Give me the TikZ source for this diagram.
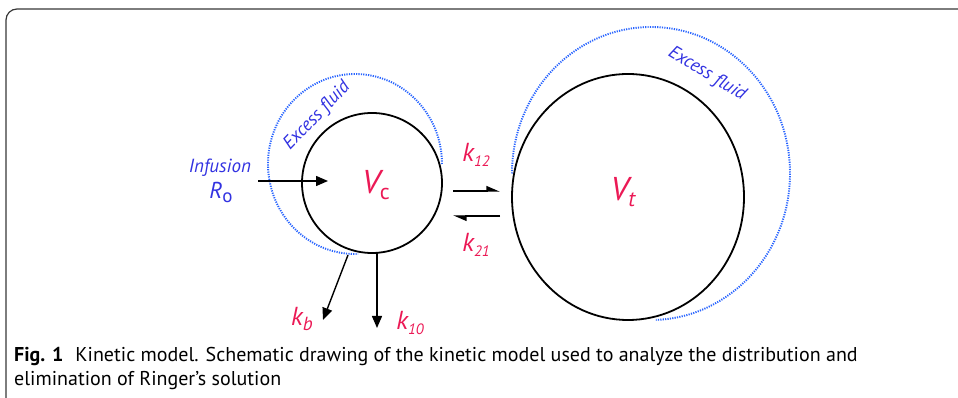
\documentclass[tikz,border=0pt]{standalone}
\usepackage{fontspec}
\setmainfont{PT Sans}
\usetikzlibrary{arrows.meta,calc,shapes.geometric}
\definecolor{tblue}{RGB}{50,50,225}
\definecolor{dblue}{RGB}{40,100,255}
\definecolor{tred}{RGB}{235,25,85}
\definecolor{framegray}{RGB}{55,55,55}
\newcommand\lowsub[2][5pt]{\raisebox{-#1}{#2}}
\begin{document}
\begin{tikzpicture}[x=1pt,y=1pt,
  comp/.style={draw=black,line width=1.8pt},
  excess/.style={draw=dblue,line width=1.9pt,dash pattern=on 1.2pt off 1.2pt},
  flow/.style={draw=black,line width=1.4pt,-{Triangle[length=12pt,width=10pt]}},
  xchg/.style={draw=black,line width=1.4pt,-{Triangle[length=12pt,width=10pt,harpoon]}},
  rate/.style={text=tred,font=\itshape\fontsize{26}{28}\selectfont,inner sep=0pt},
  vol/.style={text=tred,font=\itshape\fontsize{33}{35}\selectfont,inner sep=0pt},
  bluelbl/.style={text=tblue,font=\itshape\fontsize{19}{21}\selectfont,inner sep=0pt},
  excesslbl/.style={text=tblue,font=\itshape\fontsize{18.5}{20}\selectfont,inner sep=0pt},
  caption/.style={font=\fontsize{20}{24}\selectfont,inner sep=0pt,anchor=base west}]
\useasboundingbox (0,0) rectangle (958,398);
\begin{scope}
\clip (0,0) rectangle (958,398);
\draw[framegray,line width=1.2pt,rounded corners=11pt] (6,-5) -- (6,389) -- (965,389);
\end{scope}
% compartments
\node[comp,circle,minimum size=140pt,inner sep=0pt] (vc) at (372,215) {};
\node[comp,ellipse,minimum width=232pt,minimum height=246pt,inner sep=0pt] (vt) at (628,201) {};
% excess fluid dotted arcs
\draw[excess] (355,234) ++(0:87 and 90) arc[start angle=0,end angle=272,x radius=87,y radius=90];
\draw[excess] (651,224.5) ++(180:139 and 146.5) arc[start angle=180,end angle=-88,x radius=139,y radius=146.5];
% labels
\node[vol] (vclbl) at (376,213) {V\lowsub[6pt]{\upshape\fontsize{22}{22}\selectfont c}};
\node[vol] (vtlbl) at (623,206) {V\lowsub[6pt]{\fontsize{22}{22}\selectfont t}};
\node[bluelbl] (inf) at (220,230) {Infusion};
\node[bluelbl,font=\itshape\fontsize{23}{25}\selectfont] (ro) at (221,206) {R\lowsub[4pt]{\upshape\fontsize{19}{19}\selectfont o}};
\node[rate] (k12) at (476,243) {k\lowsub{\fontsize{15}{15}\selectfont 12}};
\node[rate] (k21) at (476,153) {k\lowsub{\fontsize{15}{15}\selectfont 21}};
\node[rate] (kb) at (302,79) {k\lowsub{\fontsize{19}{19}\selectfont b}};
\node[rate] (k10) at (410,75) {k\lowsub{\fontsize{15}{15}\selectfont 10}};
\node[excesslbl,rotate=46] (ex1) at (317,282) {Excess fluid};
\node[excesslbl,rotate=-31] (ex2) at (707,324) {Excess fluid};
% connectors
\coordinate (infstart) at (258,217);
\coordinate (infend) at (328,217);
\draw[flow] (infstart) -- (infend);
\coordinate (c12a) at (453,207);
\coordinate (c12b) at (500,207);
\coordinate (c21a) at (500,182);
\coordinate (c21b) at (453,182);
\draw[xchg] (c12a) -- (c12b);
\draw[xchg] (c21a) -- (c21b);
\coordinate (kbstart) at (348,143);
\coordinate (kbend) at (323,78);
\draw[flow] (kbstart) -- (kbend);
\coordinate (k10start) at (377,145);
\coordinate (k10end) at (377,70);
\draw[flow] (k10start) -- (k10end);
% caption
\node[caption] (cap1) at (14,36) {\textbf{Fig. 1}\hspace{0.6em}Kinetic model. Schematic drawing of the kinetic model used to analyze the distribution and};
\node[caption] (cap2) at (14,12) {elimination of Ringer’s solution};
\end{tikzpicture}
\end{document}
